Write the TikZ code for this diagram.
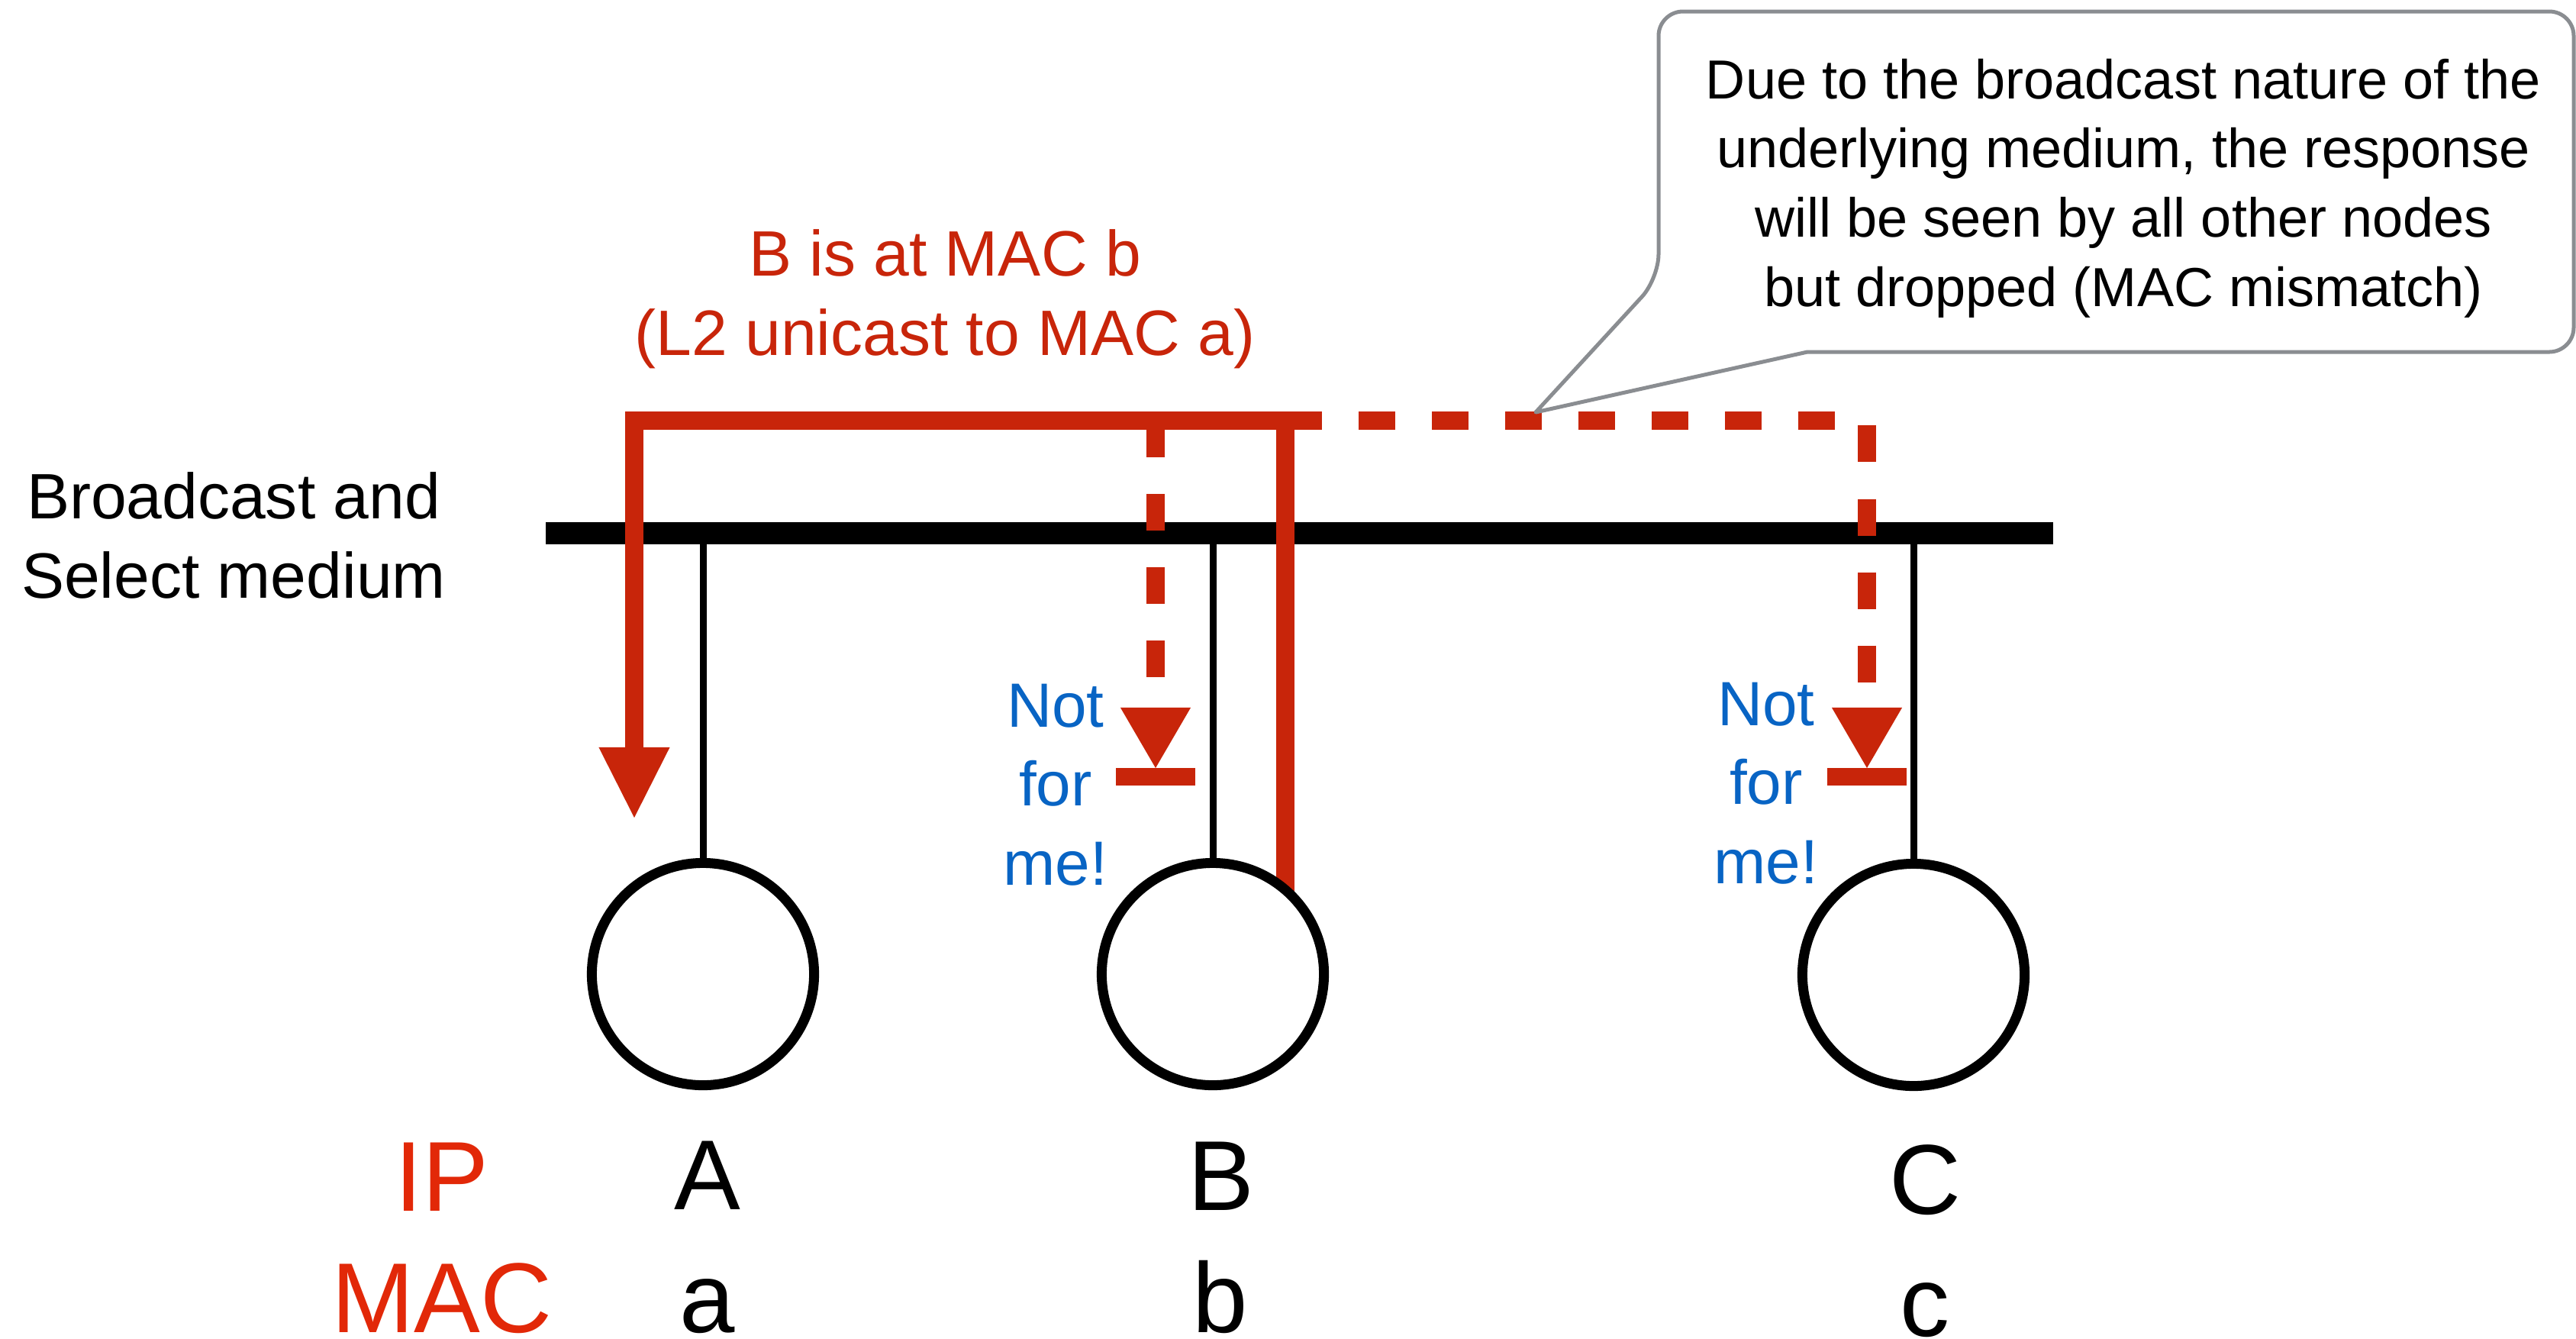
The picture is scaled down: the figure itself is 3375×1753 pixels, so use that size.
\documentclass[tikz,border=0pt]{standalone}
\usepackage{fontspec}
\setmainfont{Liberation Sans}
\usetikzlibrary{arrows.meta,backgrounds}

\definecolor{netred}{RGB}{200,37,10}
\definecolor{labred}{RGB}{226,40,8}
\definecolor{noteblue}{RGB}{8,100,196}
\definecolor{calloutgray}{RGB}{138,141,145}

% font sizes (1 unit of the picture = 0.01cm)
\newcommand\fMain{\fontsize{23.9pt}{29.6pt}\selectfont}
\newcommand\fNote{\fontsize{20.5pt}{25.8pt}\selectfont}
\newcommand\fBig{\fontsize{37pt}{44pt}\selectfont}
\newcommand\fBlue{\fontsize{23.3pt}{29.5pt}\selectfont}
% centred lines whose baseline is the first line's baseline
\newcommand\linesblock[1]{\begin{tabular}[t]{@{}c@{}}#1\end{tabular}}

\begin{document}
\begin{tikzpicture}[x=0.01cm,y=-0.01cm,
  bus/.style={line width=0.29cm, draw=black},
  drop/.style={line width=0.09cm, draw=black},
  host/.style={circle, draw=black, fill=white, line width=0.13cm,
               minimum size=2.91cm, inner sep=0pt},
  reply/.style={line width=0.24cm, draw=netred, line join=miter,
               -{Triangle[length=0.92cm,width=0.93cm,line width=0pt]}},
  flood/.style={line width=0.24cm, draw=netred,
               dash pattern=on 0.48cm off 0.48cm,
               -{Triangle[length=0.79cm,width=0.92cm,line width=0pt]}},
  dropbar/.style={line width=0.23cm, draw=netred},
  txt/.style={inner sep=0pt, anchor=base},
  callout/.style={draw=calloutgray, fill=white, line width=0.05cm, line join=round}]

\useasboundingbox (0,0) rectangle (3375,1753);

% hosts
\node[host] (nA) at (921,1276) {};
\node[host] (nB) at (1589,1276) {};
\node[host] (nC) at (2507,1277) {};

% shared medium and the frames travelling on it
\coordinate (busL) at (715,698);
\coordinate (busR) at (2690,698);
\coordinate (topR) at (1684,551);
\coordinate (topL) at (831,551);
\coordinate (tipA) at (831,1071);
\coordinate (splitB) at (1514,551);
\coordinate (tipB) at (1514,1006);
\coordinate (cornerC) at (2446,551);
\coordinate (tipC) at (2446,1006);
\coordinate (barBL) at (1462,1017.5);
\coordinate (barBR) at (1566,1017.5);
\coordinate (barCL) at (2394,1017.5);
\coordinate (barCR) at (2498,1017.5);

\begin{scope}[on background layer]
  \fill[white] (0,0) rectangle (3375,1753);
  \draw[bus] (busL) -- (busR);
  % unicast reply from B to A
  \draw[reply] (nB.center -| topR) -- (topR) -- (topL) -- (tipA);
  % copies seen by the other hosts, then dropped
  \draw[flood] (topR) -- (cornerC) -- (tipC);
  \draw[flood] (splitB) -- (tipB);
  \draw[dropbar] (barBL) -- (barBR);
  \draw[dropbar] (barCL) -- (barCR);
\end{scope}

% taps from the medium to each host
\draw[drop] (nA.north |- busL) -- (nA.north);
\draw[drop] (nB.north |- busL) -- (nB.north);
\draw[drop] (nC.north |- busL) -- (nC.north);

% callout
\draw[callout] (2368,461) [rounded corners=0.32cm] -- (3372,461) -- (3372,15)
  -- (2173,15) -- (2173,365) [sharp corners] -- (2012,540) -- cycle;
\node[txt] (note) at (2782,129) {\fNote\linesblock{Due to the broadcast nature of the\\
  underlying medium, the response\\will be seen by all other nodes\\but dropped (MAC mismatch)}};

% labels
\node[txt] (medium) at (306,679) {\fMain\linesblock{Broadcast and\\Select medium}};
\node[txt, text=netred] (resp) at (1238,361) {\fMain\linesblock{B is at MAC b\\(L2 unicast to MAC a)}};
\node[txt, text=noteblue] (nfmB) at (1383,952) {\fBlue\linesblock{Not\\for\\me!}};
\node[txt, text=noteblue] (nfmC) at (2314,950) {\fBlue\linesblock{Not\\for\\me!}};

\node[txt, text=labred] (ipL) at (579,1586) {\fBig IP};
\node[txt, text=labred] (macL) at (579,1745) {\fBig MAC};
\node[txt] (ipA) at (927,1584) {\fBig A};
\node[txt] (macA) at (927,1745) {\fBig a};
\node[txt] (ipB) at (1600,1585) {\fBig B};
\node[txt] (macB) at (1599,1745) {\fBig b};
\node[txt] (ipC) at (2522,1590) {\fBig C};
\node[txt] (macC) at (2522,1750) {\fBig c};
\end{tikzpicture}
\end{document}
